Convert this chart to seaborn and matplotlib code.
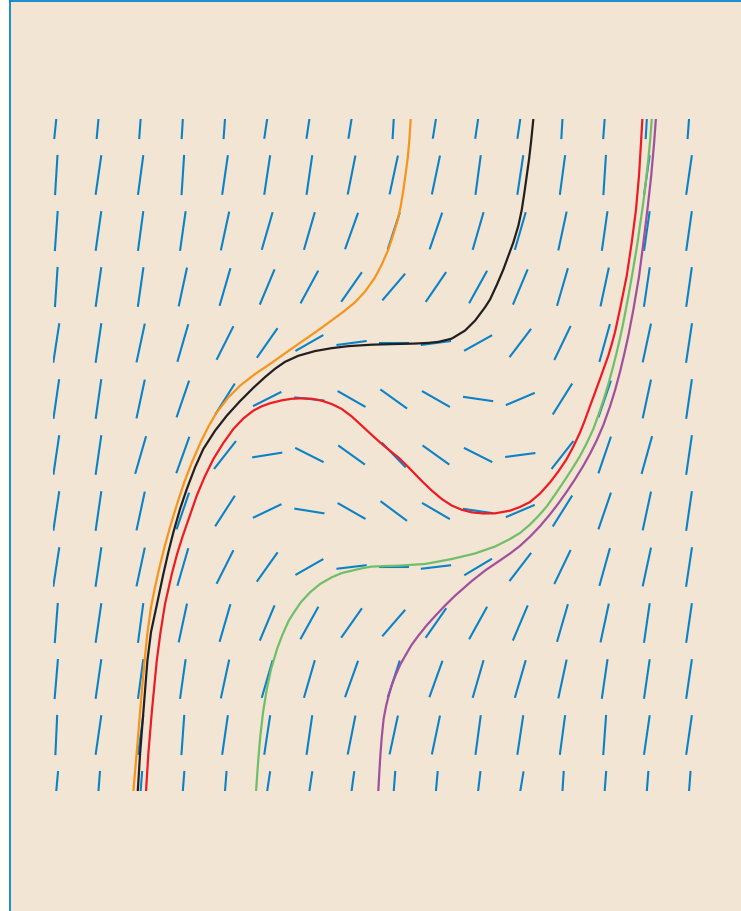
import numpy as np
import pandas as pd
import matplotlib
matplotlib.use("Agg")
import matplotlib.pyplot as plt
import seaborn as sns

# grid of the slope field (rows listed from top to bottom)
grid_x = [-4.0, -3.5, -3.0, -2.5, -2.0, -1.5, -1.0, -0.5, 0.0, 0.5, 1.0, 1.5, 2.0, 2.5, 3.0, 3.5]
grid_y = [3.0, 2.5, 2.0, 1.5, 1.0, 0.5, 0.0, -0.5, -1.0, -1.5, -2.0, -2.5, -3.0]

# slope dy/dx read at each grid point
slopes = [
    [7.3, 8.3, 10.2, 12.8, 10.2, 5.0, 5.1, 4.7, 12.8, 4.7, 5.1, 5.1, 12.8, 10.2, 12.8, 10.2],
    [12.3, 5.2, 5.6, 11.7, 5.2, 5.0, 5.2, 3.8, 3.5, 3.6, 5.6, 5.0, 5.6, 11.7, 5.3, 5.2],
    [10.5, 5.3, 5.6, 5.3, 3.5, 2.6, 2.6, 2.1, 2.3, 2.2, 2.6, 2.6, 3.5, 5.3, 5.3, 5.3],
    [11.3, 5.3, 5.3, 3.5, 2.6, 1.8, 1.39, 1.08, 0.88, 1.1, 1.36, 1.8, 2.6, 3.5, 5.1, 5.3],
    [4.9, 5.2, 3.5, 2.6, 1.5, 1.08, 0.43, 0.1, 0.0, 0.1, 0.42, 0.99, 1.57, 2.7, 3.5, 5.0],
    [5.2, 5.3, 3.5, 2.2, 1.19, 0.38, -0.08, -0.43, -0.54, -0.43, -0.11, 0.32, 1.2, 2.2, 3.5, 5.2],
    [5.1, 5.2, 2.6, 2.1, 0.96, 0.12, -0.38, -0.54, -0.78, -0.54, -0.38, 0.1, 0.96, 2.2, 2.7, 5.2],
    [5.0, 5.2, 3.5, 2.2, 1.17, 0.36, -0.12, -0.43, -0.56, -0.44, -0.11, 0.32, 1.2, 2.2, 3.5, 5.2],
    [4.9, 5.1, 3.5, 2.6, 1.5, 1.06, 0.43, 0.09, 0.0, 0.09, 0.45, 0.98, 1.57, 2.7, 3.5, 5.0],
    [9.8, 5.2, 5.6, 3.5, 2.6, 1.8, 1.36, 1.07, 0.87, 1.08, 1.36, 1.78, 2.6, 3.5, 5.2, 5.2],
    [9.0, 5.2, 5.6, 5.3, 3.5, 2.6, 2.6, 2.1, 2.3, 2.1, 2.6, 2.6, 3.5, 5.2, 5.2, 5.2],
    [16.6, 5.2, 5.6, 10.5, 5.2, 5.0, 5.2, 3.8, 3.5, 3.6, 5.6, 5.0, 5.6, 10.5, 5.2, 5.2],
    [8.3, 9.8, 9.8, 9.8, 9.8, 5.0, 5.0, 5.5, 9.8, 8.3, 6.3, 4.5, 12.0, 9.8, 9.8, 9.8],
]

# solution curves
orange_x = [-3.086, -3.048, -3.007, -2.954, -2.918, -2.877, -2.829, -2.782, -2.717, -2.648,
            -2.561, -2.482, -2.391, -2.288, -2.193, -2.097, -1.962, -1.822, -1.644, -1.466,
            -1.300, -1.131, -0.933, -0.775, -0.597, -0.459, -0.340, -0.222, -0.142, -0.064,
            -0.005, 0.047, 0.083, 0.114, 0.142, 0.166, 0.184, 0.201]
orange_y = [-3.0, -2.670, -2.295, -1.839, -1.580, -1.357, -1.179, -1.018, -0.821, -0.634,
            -0.420, -0.241, -0.063, 0.116, 0.259, 0.381, 0.513, 0.619, 0.723, 0.813,
            0.902, 0.991, 1.094, 1.180, 1.279, 1.363, 1.460, 1.585, 1.701, 1.835,
            1.969, 2.098, 2.223, 2.366, 2.518, 2.652, 2.804, 3.0]

black_x = [-3.034, -3.007, -2.968, -2.920, -2.877, -2.806, -2.731, -2.672, -2.612, -2.533,
           -2.453, -2.355, -2.257, -2.118, -1.979, -1.822, -1.664, -1.525, -1.407, -1.288,
           -1.131, -0.933, -0.735, -0.538, -0.261, -0.024, 0.252, 0.410, 0.529, 0.687,
           0.845, 0.964, 1.082, 1.141, 1.221, 1.299, 1.358, 1.418, 1.477, 1.517,
           1.548, 1.576, 1.604, 1.627, 1.655]
black_y = [-3.0, -2.670, -2.297, -1.837, -1.580, -1.330, -1.063, -0.869, -0.690, -0.482,
           -0.304, -0.110, 0.054, 0.217, 0.351, 0.481, 0.600, 0.696, 0.770, 0.832,
           0.886, 0.928, 0.954, 0.972, 0.985, 0.990, 0.995, 1.001, 1.010, 1.039,
           1.111, 1.200, 1.319, 1.388, 1.518, 1.656, 1.777, 1.899, 2.047, 2.188,
           2.339, 2.491, 2.643, 2.792, 3.0]

red_x = [-2.936, -2.909, -2.868, -2.809, -2.764, -2.711, -2.631, -2.568, -2.500, -2.335,
         -2.242, -2.138, -2.020, -1.901, -1.783, -1.664, -1.565, -1.466, -1.327, -1.209,
         -1.090, -0.972, -0.853, -0.735, -0.616, -0.498, -0.379, -0.269, -0.162, -0.056,
         0.055, 0.154, 0.252, 0.351, 0.450, 0.569, 0.687, 0.806, 0.925, 1.062,
         1.201, 1.378, 1.497, 1.615, 1.734, 1.853, 1.951, 2.050, 2.129, 2.208,
         2.267, 2.327, 2.386, 2.445, 2.493, 2.544, 2.581, 2.623, 2.682, 2.762,
         2.821, 2.872, 2.907, 2.931, 2.947]
red_y = [-3.0, -2.670, -2.297, -1.837, -1.580, -1.330, -1.063, -0.884, -0.721, -0.363,
         -0.196, -0.036, 0.107, 0.232, 0.326, 0.396, 0.435, 0.462, 0.488, 0.502,
         0.506, 0.502, 0.485, 0.455, 0.411, 0.344, 0.262, 0.185, 0.112, 0.045,
         -0.022, -0.094, -0.170, -0.246, -0.317, -0.393, -0.451, -0.489, -0.512, -0.522,
         -0.521, -0.497, -0.464, -0.420, -0.344, -0.244, -0.147, -0.036, 0.076, 0.201,
         0.313, 0.438, 0.558, 0.679, 0.781, 0.888, 0.982, 1.098, 1.304, 1.601,
         1.899, 2.196, 2.494, 2.792, 3.0]

green_x = [-1.632, -1.605, -1.581, -1.549, -1.504, -1.454, -1.383, -1.324, -1.247, -1.182,
           -1.099, -0.992, -0.874, -0.735, -0.616, -0.498, -0.379, -0.269, -0.103, 0.055,
           0.371, 0.687, 0.964, 1.201, 1.378, 1.497, 1.615, 1.714, 1.813, 1.912,
           2.010, 2.110, 2.208, 2.288, 2.366, 2.430, 2.490, 2.544, 2.593, 2.638,
           2.680, 2.718, 2.752, 2.790, 2.824, 2.858, 2.890, 2.918, 2.947, 2.974,
           2.996, 3.018, 3.037, 3.059]
green_y = [-3.0, -2.714, -2.506, -2.295, -2.089, -1.911, -1.732, -1.613, -1.482, -1.404,
           -1.313, -1.226, -1.152, -1.092, -1.054, -1.033, -1.012, -0.997, -0.991, -0.988,
           -0.973, -0.929, -0.879, -0.817, -0.750, -0.696, -0.621, -0.545, -0.460, -0.353,
           -0.244, -0.129, -0.009, 0.107, 0.232, 0.366, 0.500, 0.634, 0.768, 0.902,
           1.036, 1.170, 1.304, 1.455, 1.601, 1.750, 1.899, 2.047, 2.196, 2.348,
           2.494, 2.643, 2.792, 3.0]

purple_x = [-0.183, -0.172, -0.159, -0.142, -0.120, -0.091, -0.058, -0.023, 0.019, 0.075,
            0.134, 0.211, 0.292, 0.389, 0.490, 0.608, 0.727, 0.925, 1.082, 1.230,
            1.378, 1.497, 1.615, 1.734, 1.853, 1.951, 2.050, 2.149, 2.247, 2.327,
            2.406, 2.484, 2.564, 2.623, 2.682, 2.730, 2.781, 2.840, 2.907, 2.958,
            3.006, 3.050, 3.085, 3.107]
purple_y = [-3.0, -2.848, -2.685, -2.518, -2.357, -2.241, -2.143, -2.054, -1.971, -1.875,
            -1.795, -1.696, -1.613, -1.522, -1.438, -1.344, -1.256, -1.125, -1.032, -0.956,
            -0.880, -0.811, -0.729, -0.635, -0.529, -0.433, -0.328, -0.216, -0.096, 0.012,
            0.131, 0.267, 0.435, 0.578, 0.743, 0.893, 1.065, 1.297, 1.593, 1.888,
            2.185, 2.482, 2.777, 3.0]

curve_names = ["orange", "black", "red", "green", "purple"]
curve_colors = {"orange": "#F7941D", "black": "#231F20", "red": "#ED1C24",
                "green": "#6FBF6A", "purple": "#A0509F"}

bg = "#F2E5D3"
blue = "#0A82C8"

# long-form tables
seg_rows = []
half = 0.18
k = 0
for i, y0 in enumerate(grid_y):
    for j, x0 in enumerate(grid_x):
        m = slopes[i][j]
        n = np.hypot(1.0, m)
        dx, dy = half / n, half * m / n
        seg_rows.append((k, x0 - dx, y0 - dy))
        seg_rows.append((k, x0 + dx, y0 + dy))
        k += 1
seg_df = pd.DataFrame(seg_rows, columns=["seg", "x", "y"])

curves = {"orange": (orange_x, orange_y), "black": (black_x, black_y), "red": (red_x, red_y),
          "green": (green_x, green_y), "purple": (purple_x, purple_y)}
curve_df = pd.concat([pd.DataFrame({"x": cx, "y": cy, "curva": name})
                      for name, (cx, cy) in curves.items()], ignore_index=True)

W, H = 741, 912
fig = plt.figure(figsize=(W / 100, H / 100), dpi=100)
fig.patch.set_facecolor("white")

# moldura de fundo
frame = fig.add_axes([10 / W, 0, 1 - 10 / W, (H - 2) / H])
frame.set_facecolor(bg)
frame.set_xticks([])
frame.set_yticks([])
for s in ["right", "bottom"]:
    frame.spines[s].set_visible(False)
for s in ["left", "top"]:
    frame.spines[s].set_color(blue)
    frame.spines[s].set_linewidth(1.3)

# area do campo de direcoes
left_px, right_px, top_px, bot_px = 52.9, 741, 120, 792
ax = fig.add_axes([left_px / W, (H - bot_px) / H, (right_px - left_px) / W, (bot_px - top_px) / H])
ax.set_facecolor("none")

sns.lineplot(data=seg_df, x="x", y="y", units="seg", estimator=None, sort=False,
             color=blue, linewidth=1.5, ax=ax)
sns.lineplot(data=curve_df, x="x", y="y", hue="curva", palette=curve_colors,
             hue_order=curve_names, units="curva", estimator=None, sort=False,
             linewidth=1.6, legend=False, ax=ax)
for ln in ax.get_lines():
    ln.set_solid_joinstyle("round")
    ln.set_solid_capstyle("butt")

ax.set_xlim(-4.04, 4.116)
ax.set_ylim(-3, 3)
ax.axis("off")

fig.savefig("out.png", dpi=100, facecolor="white")
